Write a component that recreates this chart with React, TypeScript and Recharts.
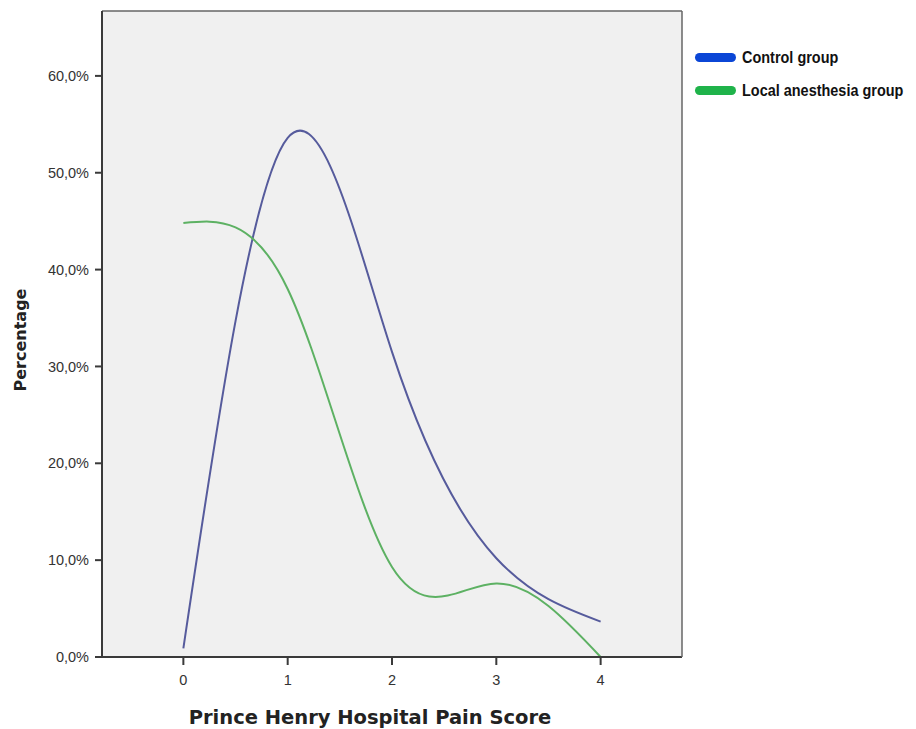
import React from "react";
import {
  LineChart,
  Line,
  XAxis,
  YAxis,
  CartesianGrid,
  Label,
} from "recharts";

// Prince Henry Hospital Pain Score, 0..4
const painScores = [0, 1, 2, 3, 4];
// percentage of patients per score
const controlGroup = [0.9, 53.6, 31.5, 10.2, 3.65];
const localAnesthesiaGroup = [44.8, 38.0, 9.3, 7.6, 0.0];
const yTicks = [0, 10, 20, 30, 40, 50, 60];

const data = painScores.map((score, i) => ({
  score,
  control: controlGroup[i],
  local: localAnesthesiaGroup[i],
}));

const legendItems = [
  { label: "Control group", color: "#0b46d6" },
  { label: "Local anesthesia group", color: "#1fb34a" },
];

const pct = (v: number) => v.toFixed(1).replace(".", ",") + "%";

function LegendBox() {
  return (
    <div style={{ position: "absolute", left: 695, top: 41 }}>
      {legendItems.map((item) => (
        <div
          key={item.label}
          style={{ display: "flex", alignItems: "center", height: 33, whiteSpace: "nowrap" }}
        >
          <span
            style={{
              display: "inline-block",
              width: 41,
              height: 9,
              borderRadius: 5,
              background: item.color,
              marginRight: 6,
            }}
          />
          <span
            style={{
              display: "inline-block",
              fontFamily: "'Liberation Sans', Arial, sans-serif",
              fontWeight: "bold",
              fontSize: 17,
              color: "#111",
              transform: "scaleX(0.85)",
              transformOrigin: "left center",
            }}
          >
            {item.label}
          </span>
        </div>
      ))}
    </div>
  );
}

export default function App() {
  const tickStyle = {
    fontSize: 14.5,
    fill: "#333",
    fontFamily: "'Liberation Sans', Arial, sans-serif",
  };
  return (
    <div style={{ position: "absolute", left: 0, top: 0, width: 916, height: 729, background: "#fff" }}>
      <LineChart
        width={916}
        height={729}
        data={data}
        margin={{ top: 10, right: 233, bottom: 0, left: 0 }}
      >
        <CartesianGrid
          fill="#f0f0f0"
          horizontal={false}
          vertical={false}
          xAxisId="bottom"
          yAxisId="left"
        />
        <XAxis
          xAxisId="bottom"
          dataKey="score"
          type="number"
          domain={[-0.78, 4.78]}
          ticks={painScores}
          height={72}
          tick={tickStyle}
          tickSize={8}
          tickMargin={10}
          stroke="#3a3a3a"
          axisLine={{ stroke: "#3a3a3a", strokeWidth: 2 }}
          tickLine={{ stroke: "#3a3a3a", strokeWidth: 2 }}
        >
          <Label
            value="Prince Henry Hospital Pain Score"
            position="insideBottom"
            dx={-22}
            offset={5}
            style={{
              fontFamily: "'DejaVu Sans', Verdana, sans-serif",
              fontWeight: "bold",
              fontSize: 19.5,
              fill: "#222",
            }}
          />
        </XAxis>
        <XAxis
          xAxisId="top"
          orientation="top"
          dataKey="score"
          type="number"
          domain={[-0.78, 4.78]}
          height={1}
          tick={false}
          tickLine={false}
          axisLine={{ stroke: "#666", strokeWidth: 1.5 }}
        />
        <YAxis
          yAxisId="left"
          type="number"
          domain={[0, 66.7]}
          ticks={yTicks}
          tickFormatter={pct}
          width={102}
          tick={tickStyle}
          tickSize={7}
          tickMargin={6}
          axisLine={{ stroke: "#3a3a3a", strokeWidth: 2 }}
          tickLine={{ stroke: "#3a3a3a", strokeWidth: 2 }}
        >
          <Label
            value="Percentage"
            angle={-90}
            position="insideLeft"
            offset={20}
            dy={6}
            style={{
              textAnchor: "middle",
              fontFamily: "'DejaVu Sans', Verdana, sans-serif",
              fontWeight: "bold",
              fontSize: 16,
              fill: "#222",
            }}
          />
        </YAxis>
        <YAxis
          yAxisId="right"
          orientation="right"
          type="number"
          domain={[0, 66.7]}
          width={1}
          tick={false}
          tickLine={false}
          axisLine={{ stroke: "#666", strokeWidth: 1.5 }}
        />
        <Line
          xAxisId="bottom"
          yAxisId="left"
          type="natural"
          dataKey="control"
          name="Control group"
          stroke="#565b9c"
          strokeWidth={2}
          dot={false}
          activeDot={false}
          isAnimationActive={false}
        />
        <Line
          xAxisId="bottom"
          yAxisId="left"
          type="natural"
          dataKey="local"
          name="Local anesthesia group"
          stroke="#5db163"
          strokeWidth={2}
          dot={false}
          activeDot={false}
          isAnimationActive={false}
        />
      </LineChart>
      <LegendBox />
    </div>
  );
}
